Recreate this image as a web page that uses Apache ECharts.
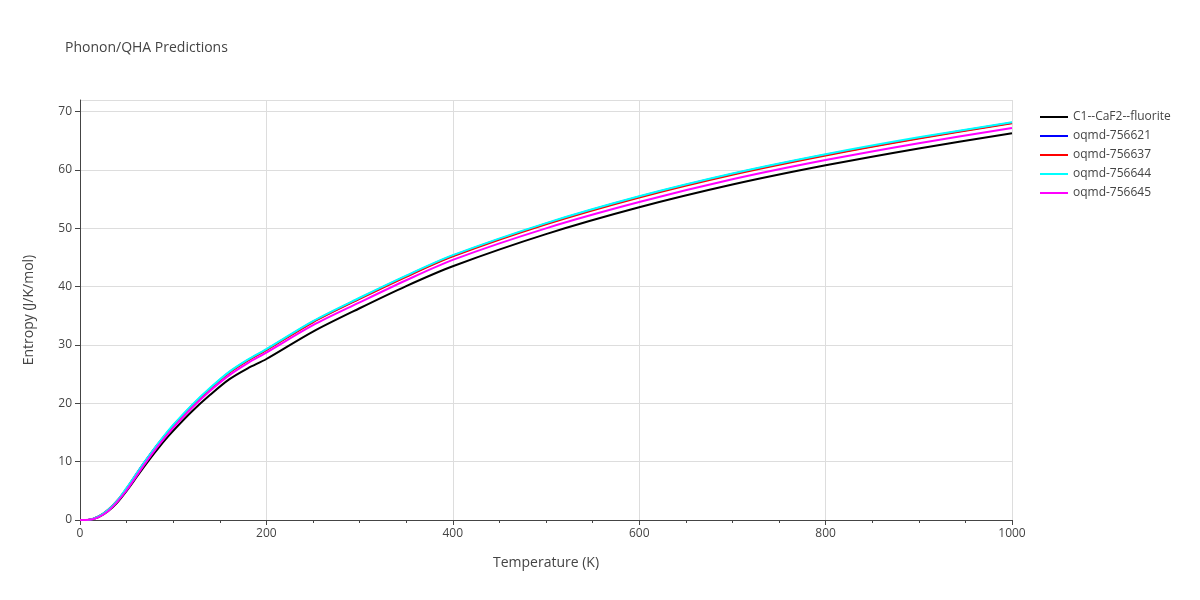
<!DOCTYPE html>
<html><head><meta charset="utf-8">
<script src="https://cdn.jsdelivr.net/npm/echarts@6/dist/echarts.min.js"></script>
<style>body{margin:0}#c{width:1200px;height:600px}</style></head>
<body><div id="c"></div>
<script>
const temps = [0,10,20,30,40,50,60,70,80,90,100,120,140,160,180,200,250,300,350,400,500,600,700,800,900,1000];
const sBlack   = [0,0.05,0.5,1.5,3.0,5.0,7.2,9.4,11.5,13.5,15.3,18.6,21.5,24.1,26.0,27.6,32.3,36.3,40.1,43.5,49.0,53.6,57.5,60.8,63.7,66.3];
const sBlue    = [0,0.05,0.6,1.7,3.3,5.4,7.8,10.1,12.3,14.3,16.2,19.6,22.6,25.3,27.4,29.2,34.0,38.0,41.8,45.3,50.8,55.4,59.3,62.6,65.5,68.1];
const sRed     = [0,0.05,0.6,1.7,3.3,5.4,7.7,10.0,12.2,14.2,16.1,19.5,22.5,25.2,27.3,29.1,33.9,37.9,41.7,45.2,50.7,55.3,59.2,62.5,65.4,68.0];
const sCyan    = [0,0.05,0.6,1.7,3.3,5.5,7.8,10.1,12.3,14.4,16.3,19.7,22.7,25.4,27.5,29.3,34.1,38.1,41.9,45.4,50.9,55.5,59.4,62.7,65.6,68.2];
const sMagenta = [0,0.04,0.5,1.5,3.1,5.1,7.4,9.7,11.9,13.9,15.8,19.2,22.2,24.8,26.9,28.7,33.4,37.3,41.1,44.6,50.0,54.5,58.4,61.7,64.6,67.2];
const names = ['C1--CaF2--fluorite','oqmd-756621','oqmd-756637','oqmd-756644','oqmd-756645'];
const colors = ['#000000','#0000ff','#ff0000','#00ffff','#ff00ff'];
const all = [sBlack,sBlue,sRed,sCyan,sMagenta];
const c = echarts.init(document.getElementById('c'));
const ax = {color:'#444',fontFamily:'Open Sans',fontSize:12};
c.setOption({
  animation:false,
  title:{text:'Phonon/QHA Predictions',left:60,top:36,textStyle:{fontFamily:'Open Sans',fontSize:14,fontWeight:'normal',color:'#444'}},
  legend:{orient:'vertical',left:1035,top:106,itemGap:7,itemWidth:28,itemHeight:2,icon:'rect',textStyle:ax},
  grid:{left:80,right:188,top:100,bottom:80},
  xAxis:{type:'value',min:0,max:1000,interval:200,name:'Temperature (K)',nameLocation:'middle',nameGap:36,nameTextStyle:{color:'#444',fontFamily:'Open Sans',fontSize:14},
    axisLine:{lineStyle:{color:'#444'}},axisTick:{show:true,lineStyle:{color:'#444'},length:5},minorTick:{show:true,splitNumber:4,length:3,lineStyle:{color:'#444'}},
    axisLabel:Object.assign({formatter:v=>String(v)},ax),splitLine:{lineStyle:{color:'#ddd'}}},
  yAxis:{type:'value',min:0,max:72,interval:10,name:'Entropy (J/K/mol)',nameLocation:'middle',nameGap:44,nameTextStyle:{color:'#444',fontFamily:'Open Sans',fontSize:14},
    axisLine:{show:true,lineStyle:{color:'#444'}},axisTick:{show:true,lineStyle:{color:'#444'},length:5},
    axisLabel:Object.assign({showMaxLabel:false},ax),splitLine:{lineStyle:{color:'#ddd'}}},
  series:names.map((n,i)=>({name:n,type:'line',smooth:0.3,showSymbol:false,color:colors[i],lineStyle:{width:2},
    data:temps.map((t,j)=>[t,all[i][j]])}))
});
</script></body></html>
